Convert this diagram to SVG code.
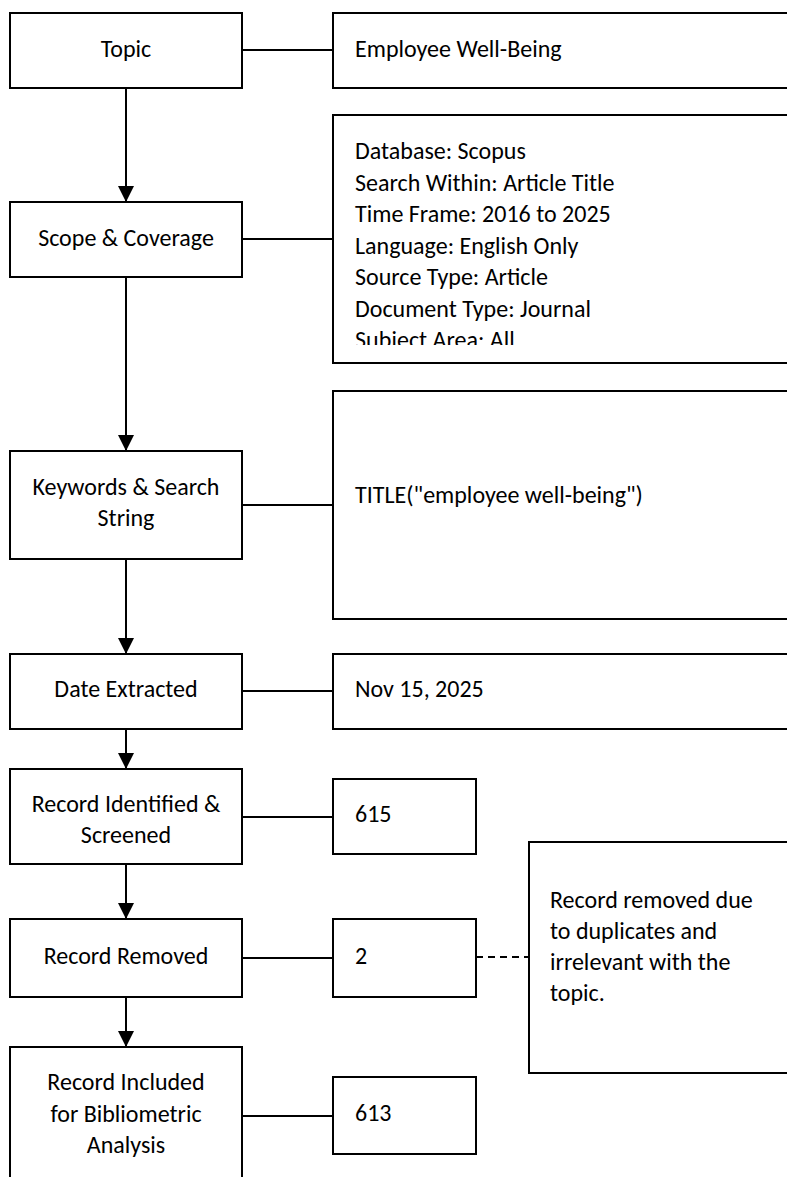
<svg xmlns="http://www.w3.org/2000/svg" width="787" height="1177" viewBox="0 0 787 1177">
<style>
.box{fill:#fff;stroke:#000;stroke-width:2}
.ln{stroke:#000;stroke-width:2;fill:none}
.dash{stroke:#000;stroke-width:2;fill:none;stroke-dasharray:7 5}
text{font-family:Carlito,Lato,"Liberation Sans",sans-serif;font-size:24px;fill:#000}
.c{text-anchor:middle}
</style>
<defs>
<marker id="ah" markerUnits="userSpaceOnUse" markerWidth="16" markerHeight="16" viewBox="0 0 16 16" refX="16" refY="8" orient="auto">
<path d="M0,0 L16,8 L0,16 Z" fill="#000"/>
</marker>
<clipPath id="clipScope"><rect x="334" y="116" width="460" height="229"/></clipPath>
</defs>
<rect width="787" height="1177" fill="#fff"/>
<g id="connectors">
<line class="ln" x1="126" y1="88" x2="126" y2="202" marker-end="url(#ah)"/>
<line class="ln" x1="126" y1="277" x2="126" y2="451" marker-end="url(#ah)"/>
<line class="ln" x1="126" y1="559" x2="126" y2="654" marker-end="url(#ah)"/>
<line class="ln" x1="126" y1="729" x2="126" y2="769" marker-end="url(#ah)"/>
<line class="ln" x1="126" y1="864" x2="126" y2="919" marker-end="url(#ah)"/>
<line class="ln" x1="126" y1="997" x2="126" y2="1047" marker-end="url(#ah)"/>
<line class="ln" x1="242" y1="50" x2="333" y2="50"/>
<line class="ln" x1="242" y1="239" x2="333" y2="239"/>
<line class="ln" x1="242" y1="505" x2="333" y2="505"/>
<line class="ln" x1="242" y1="691" x2="333" y2="691"/>
<line class="ln" x1="242" y1="817" x2="333" y2="817"/>
<line class="ln" x1="242" y1="958" x2="333" y2="958"/>
<line class="ln" x1="242" y1="1116" x2="333" y2="1116"/>
<line class="dash" x1="476" y1="957" x2="529" y2="957"/>
</g>
<g id="topic"><rect class="box" x="10" y="13" width="232" height="75"/><text class="c" x="126" y="57">Topic</text></g>
<g id="topic-value"><rect class="box" x="333" y="13" width="470" height="75"/><text x="355" y="57">Employee Well-Being</text></g>
<g id="scope"><rect class="box" x="10" y="202" width="232" height="75"/><text class="c" x="126" y="246">Scope &amp; Coverage</text></g>
<g id="scope-value"><rect class="box" x="333" y="115" width="470" height="248"/>
<g clip-path="url(#clipScope)">
<text x="355" y="159">Database: Scopus</text>
<text x="355" y="190.5">Search Within: Article Title</text>
<text x="355" y="222">Time Frame: 2016 to 2025</text>
<text x="355" y="253.5">Language: English Only</text>
<text x="355" y="285">Source Type: Article</text>
<text x="355" y="316.5">Document Type: Journal</text>
<text x="355" y="348">Subject Area: All</text>
</g></g>
<g id="keywords"><rect class="box" x="10" y="451" width="232" height="108"/><text class="c" x="126" y="495">Keywords &amp; Search</text><text class="c" x="126" y="526">String</text></g>
<g id="keywords-value"><rect class="box" x="333" y="391" width="470" height="228"/><text x="355" y="503">TITLE("employee well-being")</text></g>
<g id="date"><rect class="box" x="10" y="654" width="232" height="75"/><text class="c" x="126" y="697">Date Extracted</text></g>
<g id="date-value"><rect class="box" x="333" y="654" width="470" height="75"/><text x="355" y="697">Nov 15, 2025</text></g>
<g id="identified"><rect class="box" x="10" y="769" width="232" height="95"/><text class="c" x="126" y="812">Record Identified &amp;</text><text class="c" x="126" y="843">Screened</text></g>
<g id="identified-value"><rect class="box" x="333" y="779" width="143" height="75"/><text x="355" y="822">615</text></g>
<g id="removed"><rect class="box" x="10" y="919" width="232" height="78"/><text class="c" x="126" y="964">Record Removed</text></g>
<g id="removed-value"><rect class="box" x="333" y="919" width="143" height="78"/><text x="355" y="964">2</text></g>
<g id="removed-note"><rect class="box" x="529" y="842" width="270" height="231"/>
<text x="550" y="908">Record removed due</text>
<text x="550" y="939">to duplicates and</text>
<text x="550" y="970">irrelevant with the</text>
<text x="550" y="1001">topic.</text></g>
<g id="included"><rect class="box" x="10" y="1047" width="232" height="140"/><text class="c" x="126" y="1090">Record Included</text><text class="c" x="126" y="1122">for Bibliometric</text><text class="c" x="126" y="1153">Analysis</text></g>
<g id="included-value"><rect class="box" x="333" y="1077" width="143" height="77"/><text x="355" y="1121">613</text></g>
</svg>
